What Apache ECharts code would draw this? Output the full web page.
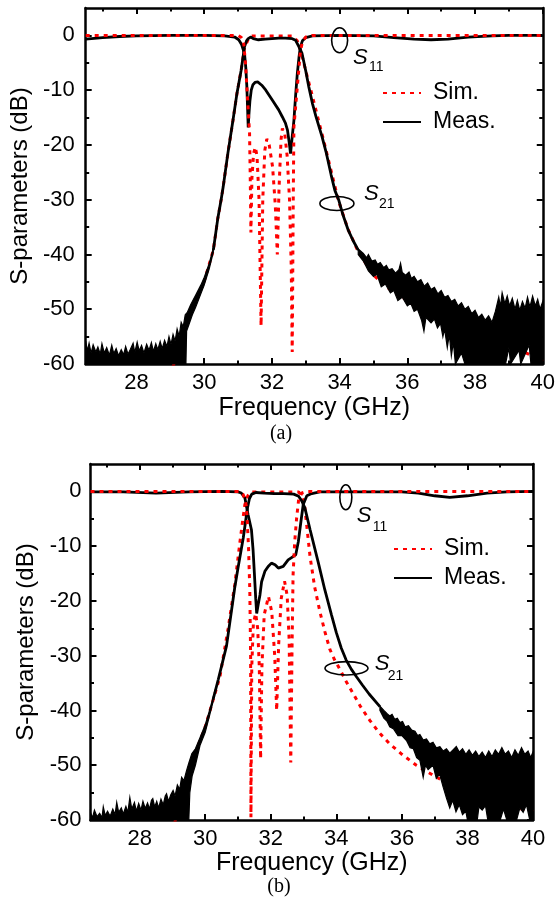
<!DOCTYPE html>
<html><head><meta charset="utf-8">
<script src="https://cdn.jsdelivr.net/npm/echarts@6/dist/echarts.min.js"></script>
<style>html,body{margin:0;padding:0;background:#fff}#c{width:558px;height:904px}</style>
</head><body><div id="c"></div>
<script>
// ---------- tick values ----------
const X_MAJOR = [28, 30, 32, 34, 36, 38, 40];
const X_MINOR = [27, 29, 31, 33, 35, 37, 39];
const Y_MAJOR = [-60, -50, -40, -30, -20, -10, 0];
const Y_MINOR = [-55, -45, -35, -25, -15, -5];
const X_RANGE = [26.5, 40];
const Y_RANGE = [-60, 5];

// ---------- (a) data: [frequency GHz, dB] ----------
const A_S11_MEAS = [[26.5,-0.7],[27.0,-0.4],[27.5,-0.2],[28.0,-0.1],[29.0,0],[30.0,0],[30.6,-0.1],[30.9,-0.3],[31.02,-0.8],[31.1,-1.6],[31.19,-3.3],[31.23,-6],[31.26,-9.4],[31.28,-13],[31.3,-16.8],[31.32,-14.5],[31.35,-12],[31.39,-10],[31.44,-9],[31.5,-8.6],[31.58,-8.5],[31.7,-9.1],[31.82,-10],[32.02,-11.9],[32.2,-13.6],[32.31,-14.9],[32.4,-16],[32.46,-17.3],[32.51,-19.5],[32.55,-21.6],[32.6,-18.5],[32.65,-15.5],[32.7,-11],[32.75,-7],[32.8,-4],[32.84,-2.1],[32.9,-1],[33.0,-0.4],[33.2,-0.1],[34,0],[35,-0.1],[35.6,-0.4],[36.2,-0.7],[36.7,-0.8],[37.2,-0.7],[37.8,-0.3],[38.5,-0.1],[39,0],[40,0]];
const A_S21_MEAS = [[30.27,-39.2],[30.4,-33.5],[30.5,-30],[30.56,-27.7],[30.7,-21.5],[30.85,-15.5],[30.97,-10.5],[31.09,-6.4],[31.19,-2.1],[31.25,-1],[31.3,-0.6],[31.38,-0.3],[31.45,-0.6],[31.6,-0.8],[31.8,-0.7],[32.0,-0.6],[32.2,-0.5],[32.4,-0.5],[32.6,-0.6],[32.7,-0.9],[32.8,-2.1],[32.89,-3.3],[33.0,-6.5],[33.09,-9.4],[33.2,-12.5],[33.3,-14.8],[33.48,-18.5],[33.6,-21.3],[33.75,-25.5],[33.86,-28.3],[33.97,-30],[34.1,-32.8],[34.25,-35.5],[34.4,-37.5],[34.55,-39.2]];
const A_NOISE_L_UP = [[26.5,-55.8],[26.55,-57.6],[26.6,-56.2],[26.66,-58],[26.72,-56.5],[26.8,-57.8],[26.86,-56.9],[26.93,-58.2],[26.98,-56.3],[27.05,-58],[27.12,-57],[27.2,-58.4],[27.27,-56.6],[27.33,-58.1],[27.4,-57.2],[27.47,-58.5],[27.55,-57.4],[27.62,-58.3],[27.68,-56.8],[27.75,-58.2],[27.82,-57.3],[27.9,-56.2],[27.95,-57.9],[28.02,-56],[28.08,-57.6],[28.15,-56.6],[28.22,-58],[28.3,-56.4],[28.37,-57.5],[28.44,-56.1],[28.5,-57.7],[28.57,-56.3],[28.63,-57.4],[28.7,-55.9],[28.76,-57.2],[28.83,-55.7],[28.9,-56.8],[28.96,-55],[29.02,-56.4],[29.08,-54.6],[29.14,-55.8],[29.2,-53.6],[29.26,-54.9],[29.32,-52.4],[29.38,-53.2],[29.44,-51],[29.5,-50.6],[29.6,-49.2],[29.75,-47.4],[29.9,-45.6],[30.0,-44.2],[30.15,-41.6],[30.27,-38.8]];
const A_NOISE_L_LO = [[26.5,-60],[29.46,-60],[29.48,-54],[29.55,-52.8],[29.65,-51],[29.75,-49.6],[29.9,-47.2],[30.0,-45.6],[30.15,-42.6],[30.27,-39.6]];
const A_NOISE_R_UP = [[34.55,-39],[34.7,-39.8],[34.8,-40.6],[34.85,-40],[34.95,-41.2],[35.05,-41],[35.12,-41.8],[35.2,-41.5],[35.3,-42.4],[35.38,-42],[35.45,-42.8],[35.55,-42.6],[35.65,-43.4],[35.75,-42.8],[35.8,-41.6],[35.85,-43.3],[35.95,-43.8],[36.05,-43.2],[36.12,-44.4],[36.2,-44],[36.3,-45],[36.4,-44.6],[36.5,-45.8],[36.6,-45.2],[36.7,-46.4],[36.8,-46],[36.9,-47.2],[37.0,-46.6],[37.1,-47.8],[37.2,-47.5],[37.3,-48.6],[37.4,-48.2],[37.5,-49.4],[37.6,-48.8],[37.7,-50],[37.8,-49.5],[37.9,-50.8],[38.0,-50.2],[38.1,-51.5],[38.2,-50.9],[38.3,-52],[38.4,-51.2],[38.5,-52.4],[38.6,-50.4],[38.7,-47.8],[38.75,-49.5],[38.8,-47],[38.88,-49],[38.95,-47.6],[39.02,-49.4],[39.1,-48],[39.18,-50],[39.25,-48.4],[39.32,-50.2],[39.4,-48.6],[39.48,-49.8],[39.55,-47.8],[39.62,-49.6],[39.7,-47.6],[39.78,-49.4],[39.85,-48.2],[39.92,-50],[40.0,-48.6]];
const A_NOISE_R_LO = [[34.55,-40],[34.7,-41.2],[34.85,-43],[35.0,-44],[35.1,-43.6],[35.23,-45.9],[35.35,-45.4],[35.5,-47],[35.6,-46.6],[35.72,-48.4],[35.85,-47.8],[36.0,-49.4],[36.1,-48.9],[36.2,-50.4],[36.3,-50],[36.42,-52],[36.49,-54],[36.55,-51.5],[36.7,-52.5],[36.8,-51.8],[36.89,-53.4],[36.98,-52.6],[37.05,-55],[37.1,-53.6],[37.18,-57],[37.24,-54.6],[37.3,-58.5],[37.36,-56],[37.42,-60],[37.6,-58],[37.7,-60],[38.9,-60],[39.0,-57],[39.05,-60],[39.3,-57.5],[39.35,-60],[39.6,-56.5],[39.65,-60],[40,-60]];
const A_S11_SIM = [[26.5,0],[31.0,0],[31.1,-0.4],[31.16,-0.9],[31.22,-5.2],[31.29,-12.5],[31.34,-17.9],[31.36,-26],[31.38,-36],[31.41,-26],[31.46,-21.5],[31.51,-20.4],[31.56,-22],[31.62,-30],[31.68,-53],[31.73,-30],[31.79,-21],[31.85,-18.9],[31.92,-20],[32.02,-24],[32.1,-31],[32.16,-40],[32.21,-28],[32.27,-19],[32.31,-17],[32.38,-18],[32.45,-22],[32.52,-30],[32.57,-42],[32.6,-57.8],[32.63,-30],[32.65,-16.7],[32.75,-9.4],[32.84,-3],[32.9,-1.2],[33.0,-0.3],[33.2,0],[40,0]];
const A_S21_SIM = [[29.0,-62],[29.5,-52.5],[29.75,-48.5],[30.0,-44.9],[30.27,-39.2],[30.4,-33.5],[30.5,-30],[30.56,-27.7],[30.7,-21.5],[30.85,-15.5],[30.97,-10.5],[31.09,-6.4],[31.19,-2.3],[31.3,-0.7],[31.4,-0.1],[32.6,-0.1],[32.75,-1],[32.86,-3],[33.0,-6.5],[33.15,-10],[33.52,-19],[33.97,-30.3],[34.25,-35.4],[34.55,-39.5],[35.0,-43.8],[35.45,-46.2],[35.9,-48],[36.5,-50.5],[37,-52.3],[38,-55],[39.2,-57],[40,-59.5]];

// ---------- (b) data ----------
const B_S11_MEAS = [[26.5,-0.1],[27.5,-0.1],[28.5,-0.3],[29.5,-0.1],[30.5,0],[31.0,-0.1],[31.1,-0.3],[31.21,-1.2],[31.31,-4.3],[31.41,-7],[31.46,-10.7],[31.5,-15],[31.54,-19.5],[31.57,-22.3],[31.62,-20.5],[31.67,-18.9],[31.72,-16.5],[31.82,-14.6],[31.92,-13.7],[32.02,-13.1],[32.13,-13.4],[32.23,-14],[32.38,-13.7],[32.53,-12.5],[32.68,-11.9],[32.76,-11.6],[32.84,-9.2],[32.92,-5.5],[32.99,-2.4],[33.1,-0.8],[33.25,-0.4],[33.5,-0.1],[36.0,-0.1],[36.5,-0.3],[37.0,-0.8],[37.46,-1.1],[38.0,-0.8],[38.6,-0.3],[39.2,-0.1],[40,0]];
const B_S21_MEAS = [[30.24,-38],[30.4,-34.3],[30.65,-28.2],[30.9,-17.6],[31.0,-14],[31.16,-8.5],[31.29,-3],[31.35,-1.3],[31.42,-0.5],[31.55,-0.2],[31.8,-0.3],[32.1,-0.4],[32.4,-0.4],[32.7,-0.5],[32.85,-0.9],[32.95,-1.8],[33.04,-3],[33.2,-7],[33.45,-13],[33.65,-18],[33.85,-22.5],[34.0,-25.8],[34.15,-28.6],[34.3,-30.8],[34.46,-32.5],[34.62,-33.9],[34.8,-35.4],[35.0,-37],[35.33,-39.3]];
const B_NOISE_L_UP = [[26.5,-58.6],[26.56,-59.6],[26.62,-58.2],[26.7,-59.4],[26.78,-58.8],[26.85,-59.6],[26.89,-57.6],[26.95,-59.2],[27.02,-58.4],[27.1,-59.3],[27.18,-58],[27.25,-59],[27.3,-56.8],[27.36,-58.6],[27.44,-57.8],[27.5,-58.9],[27.58,-57.5],[27.64,-58.6],[27.7,-55.9],[27.76,-58],[27.84,-56.8],[27.9,-58.4],[27.97,-57],[28.04,-58.2],[28.1,-56.6],[28.17,-57.9],[28.24,-56.9],[28.3,-58],[28.36,-56.4],[28.4,-56.1],[28.46,-57.6],[28.52,-56.6],[28.58,-57.8],[28.65,-56.2],[28.72,-57.2],[28.78,-55.6],[28.82,-55.2],[28.88,-56.6],[28.95,-55.4],[29.02,-54.6],[29.08,-55.6],[29.15,-53.6],[29.22,-54.4],[29.28,-52.2],[29.35,-52.8],[29.43,-51],[29.5,-49.6],[29.59,-47.9],[29.7,-47],[29.84,-45],[30.0,-42.6],[30.12,-40.2],[30.24,-37.6]];
const B_NOISE_L_LO = [[26.5,-60],[29.5,-60],[29.53,-55],[29.6,-52],[29.7,-50],[29.84,-46.4],[30.0,-44],[30.12,-41.2],[30.24,-38.4]];
const B_NOISE_R_UP = [[35.33,-39.2],[35.45,-40],[35.55,-40.6],[35.63,-41],[35.7,-40.7],[35.78,-41.6],[35.86,-41.4],[35.94,-42.2],[36.02,-42],[36.1,-43],[36.2,-42.8],[36.3,-43.6],[36.4,-43.8],[36.48,-44.6],[36.55,-44.4],[36.65,-45.4],[36.75,-45.2],[36.85,-46.1],[36.95,-45.8],[37.05,-46.8],[37.16,-46.6],[37.26,-47.4],[37.36,-47],[37.46,-47.8],[37.56,-47.2],[37.66,-46.6],[37.75,-47.6],[37.85,-47],[37.95,-48],[38.05,-47.2],[38.15,-48.2],[38.25,-47.4],[38.35,-48.4],[38.45,-47.6],[38.55,-48.6],[38.65,-47.4],[38.75,-48.4],[38.85,-47.2],[38.95,-48],[39.05,-46.8],[39.15,-48],[39.25,-47.4],[39.35,-48.6],[39.45,-47.2],[39.55,-48.2],[39.65,-46.8],[39.75,-48],[39.85,-47.4],[39.93,-48.6],[40,-47.6]];
const B_NOISE_R_LO = [[35.33,-40],[35.45,-41.4],[35.55,-42],[35.63,-43],[35.75,-43.4],[35.88,-44.6],[36.0,-44.6],[36.14,-45.5],[36.25,-46.8],[36.35,-47],[36.45,-48.6],[36.55,-49.1],[36.65,-52.2],[36.72,-50],[36.8,-50.8],[36.95,-50],[37.05,-52.4],[37.15,-51.6],[37.26,-54],[37.36,-56],[37.46,-57.8],[37.55,-56.4],[37.65,-58.5],[37.75,-57.2],[37.85,-59],[37.95,-58.4],[38.0,-60],[38.3,-60],[38.35,-57.6],[38.45,-58.2],[38.55,-57.4],[38.62,-60],[39.0,-60],[39.1,-58],[39.2,-60],[39.5,-60],[39.6,-57.8],[39.7,-58.6],[39.8,-57.2],[39.9,-60],[40,-60]];
const B_S11_SIM = [[26.5,0],[31.05,0],[31.15,-0.5],[31.22,-1.5],[31.26,-3],[31.32,-10],[31.36,-18],[31.385,-30],[31.395,-59.5],[31.42,-32],[31.47,-24],[31.54,-22.3],[31.6,-25],[31.65,-32],[31.69,-48.8],[31.73,-32],[31.8,-22.5],[31.93,-19.2],[32.03,-22],[32.12,-30],[32.18,-40],[32.24,-28],[32.32,-19.5],[32.42,-16.4],[32.5,-19],[32.56,-27],[32.61,-49.5],[32.65,-28],[32.68,-15.3],[32.73,-9.2],[32.79,-4.8],[32.85,-1.5],[32.95,-0.3],[33.1,0],[40,0]];
const B_S21_SIM = [[29.0,-62],[29.5,-51],[30.0,-43],[30.45,-33.8],[30.7,-25],[30.9,-17.1],[31.06,-9.2],[31.15,-5],[31.21,-2.4],[31.3,-0.8],[31.4,-0.1],[32.85,-0.1],[32.95,-0.8],[33.03,-2.5],[33.11,-7],[33.2,-12],[33.34,-17.5],[33.5,-22],[33.65,-25.6],[33.8,-28.8],[33.95,-30.8],[34.1,-32.4],[34.3,-34.7],[34.51,-36.9],[34.75,-39.4],[35.02,-41.8],[35.3,-44],[35.63,-46.1],[36.0,-48],[36.44,-50],[37,-52],[37.5,-53.6],[38,-55],[39,-57],[40,-58.5]];

// annotation anchors [f, dB] and subscript text
const ANNOTS = [
  {grid:0, at:[34.0,-0.9], sub:'11'},
  {grid:0, at:[33.92,-30.7], sub:'21'},
  {grid:1, at:[34.29,-1.06], sub:'11'},
  {grid:1, at:[34.31,-32.3], sub:'21'}
];
const CAPTIONS = ['(a)', '(b)'];

// ---------------- layout / style ----------------
const FONT = 'Arial, "Liberation Sans", Helvetica, sans-serif';
const SERIF = '"Times New Roman", "Liberation Serif", serif';
const GRIDS = [
  {left:81, top:8, width:463, height:356},
  {left:90.5, top:464, width:442.5, height:356}
];
const AX = {color:'#000', width:2.5};
const SIM_STYLE = {color:'#ff0000', width:3, type:[4,5], cap:'butt'};
const MEAS_STYLE = {color:'#000', width:2.8};

const xAxes = [], yAxes = [];
GRIDS.forEach((g, gi) => {
  const bx = {type:'value', gridIndex:gi, min:X_RANGE[0], max:X_RANGE[1], splitLine:{show:false}};
  const by = {type:'value', gridIndex:gi, min:Y_RANGE[0], max:Y_RANGE[1], splitLine:{show:false}};
  xAxes.push(Object.assign({}, bx, {position:'bottom',
    axisLine:{show:true, onZero:false, lineStyle:AX},
    axisTick:{show:true, inside:true, length:6, lineStyle:{color:'#000', width:2}, customValues:X_MAJOR},
    axisLabel:{show:true, customValues:X_MAJOR, fontSize:22, color:'#000', fontFamily:FONT, margin:8},
    name:'Frequency (GHz)', nameLocation:'middle', nameGap: gi === 0 ? 32 : 30,
    nameTextStyle:{fontSize:25, color:'#000', fontFamily:FONT}}));
  xAxes.push(Object.assign({}, bx, {position:'bottom', axisLine:{show:false, onZero:false},
    axisTick:{show:true, inside:true, length:3.5, lineStyle:{color:'#000', width:2}, customValues:X_MINOR},
    axisLabel:{show:false}}));
  xAxes.push(Object.assign({}, bx, {position:'top',
    axisLine:{show:true, onZero:false, lineStyle:AX},
    axisTick:{show:true, inside:true, length:6, lineStyle:{color:'#000', width:2}, customValues:X_MAJOR},
    axisLabel:{show:false}}));
  xAxes.push(Object.assign({}, bx, {position:'top', axisLine:{show:false, onZero:false},
    axisTick:{show:true, inside:true, length:3.5, lineStyle:{color:'#000', width:2}, customValues:X_MINOR},
    axisLabel:{show:false}}));

  yAxes.push(Object.assign({}, by, {position:'left',
    axisLine:{show:true, onZero:false, lineStyle:AX},
    axisTick:{show:true, inside:true, length:6, lineStyle:{color:'#000', width:2}, customValues:Y_MAJOR},
    axisLabel:{show:true, customValues:Y_MAJOR, fontSize:22, color:'#000', fontFamily:FONT, margin: gi === 0 ? 11 : 9},
    name:'S-parameters (dB)', nameLocation:'middle', nameGap:51,
    nameTextStyle:{fontSize:24, color:'#000', fontFamily:FONT}}));
  yAxes.push(Object.assign({}, by, {position:'left', axisLine:{show:false, onZero:false},
    axisTick:{show:true, inside:true, length:3.5, lineStyle:{color:'#000', width:2}, customValues:Y_MINOR},
    axisLabel:{show:false}}));
  yAxes.push(Object.assign({}, by, {position:'right',
    axisLine:{show:true, onZero:false, lineStyle:AX},
    axisTick:{show:true, inside:true, length:6, lineStyle:{color:'#000', width:2}, customValues:Y_MAJOR},
    axisLabel:{show:false}}));
  yAxes.push(Object.assign({}, by, {position:'right', axisLine:{show:false, onZero:false},
    axisTick:{show:true, inside:true, length:3.5, lineStyle:{color:'#000', width:2}, customValues:Y_MINOR},
    axisLabel:{show:false}}));
});

function lineSeries(name, gi, data, style, z) {
  return {type:'line', name, xAxisIndex:gi*4, yAxisIndex:gi*4, data, symbol:'none', showSymbol:false,
    smooth:false, lineStyle:style, itemStyle:{color:style.color}, z, clip:true, silent:true, animation:false};
}
function bandSeries(gi, up, lo) {
  return {type:'custom', name:'band', xAxisIndex:gi*4, yAxisIndex:gi*4, data:[up[0]], z:3, silent:true,
    renderItem: (params, api) => {
      const pts = [];
      up.forEach(p => pts.push(api.coord(p)));
      for (let i = lo.length - 1; i >= 0; i--) pts.push(api.coord(lo[i]));
      return {type:'polygon', shape:{points:pts}, style:{fill:'#000', stroke:'#000', lineWidth:1.2}};
    }};
}

const series = [
  lineSeries('Sim.', 0, A_S21_SIM, SIM_STYLE, 2),
  lineSeries('Meas.', 0, A_S21_MEAS, MEAS_STYLE, 3),
  lineSeries('Meas.', 0, A_S11_MEAS, MEAS_STYLE, 3),
  bandSeries(0, A_NOISE_L_UP, A_NOISE_L_LO),
  bandSeries(0, A_NOISE_R_UP, A_NOISE_R_LO),
  lineSeries('Sim.', 0, A_S11_SIM, SIM_STYLE, 4),
  lineSeries('Sim.', 1, B_S21_SIM, SIM_STYLE, 2),
  lineSeries('Meas.', 1, B_S21_MEAS, MEAS_STYLE, 3),
  lineSeries('Meas.', 1, B_S11_MEAS, MEAS_STYLE, 3),
  bandSeries(1, B_NOISE_L_UP, B_NOISE_L_LO),
  bandSeries(1, B_NOISE_R_UP, B_NOISE_R_LO),
  lineSeries('Sim.', 1, B_S11_SIM, SIM_STYLE, 4)
];

const legendBase = {orient:'vertical', itemWidth:38, itemHeight:14, itemGap:3, padding:0,
  selectedMode:false, data:['Sim.','Meas.'],
  itemStyle:{color:'rgba(0,0,0,0)', borderColor:'rgba(0,0,0,0)', borderWidth:0, opacity:0},
  textStyle:{fontSize:23, color:'#000', fontFamily:FONT, lineHeight:26, padding:[0,0,0,7]}};

const chart = echarts.init(document.getElementById('c'), null, {renderer:'canvas'});
chart.setOption({
  animation:false,
  backgroundColor:'#fff',
  grid: GRIDS.map(g => Object.assign({containLabel:false}, g)),
  xAxis: xAxes, yAxis: yAxes,
  legend: [
    Object.assign({}, legendBase, {left:382, top:80}),
    Object.assign({}, legendBase, {left:393, top:536})
  ],
  series
});

// annotations (ellipses + S labels), anchored to data coordinates
const ANN_GEOM = [
  {rx:8, ry:12.5, s:[13.3,17.3], b:[29.3,27.3]},
  {rx:17, ry:7, s:[27,-10], b:[42,1]},
  {rx:6, ry:12.5, s:[11,18.5], b:[27,29.5]},
  {rx:21.5, ry:6.7, s:[28.3,-4.3], b:[41.3,7.7]}
];
const graphics = [];
ANNOTS.forEach((a, i) => {
  const p = chart.convertToPixel({xAxisIndex:a.grid*4, yAxisIndex:a.grid*4}, a.at);
  const g = ANN_GEOM[i];
  graphics.push({type:'ellipse', shape:{cx:p[0], cy:p[1], rx:g.rx, ry:g.ry},
    style:{fill:null, stroke:'#000', lineWidth:1.6}, z:10});
  graphics.push({type:'text', x:p[0]+g.s[0], y:p[1]+g.s[1],
    style:{text:'S', font:'italic 22px ' + FONT, fill:'#000', align:'left', verticalAlign:'middle'}, z:10});
  graphics.push({type:'text', x:p[0]+g.b[0], y:p[1]+g.b[1],
    style:{text:a.sub, font:'14px ' + FONT, fill:'#000', align:'left', verticalAlign:'middle'}, z:10});
});
graphics.push({type:'text', x:281, y:434, style:{text:CAPTIONS[0], font:'20px ' + SERIF, fill:'#000', align:'center', verticalAlign:'middle'}});
graphics.push({type:'text', x:279, y:887, style:{text:CAPTIONS[1], font:'20px ' + SERIF, fill:'#000', align:'center', verticalAlign:'middle'}});
chart.setOption({graphic: graphics});
</script></body></html>
